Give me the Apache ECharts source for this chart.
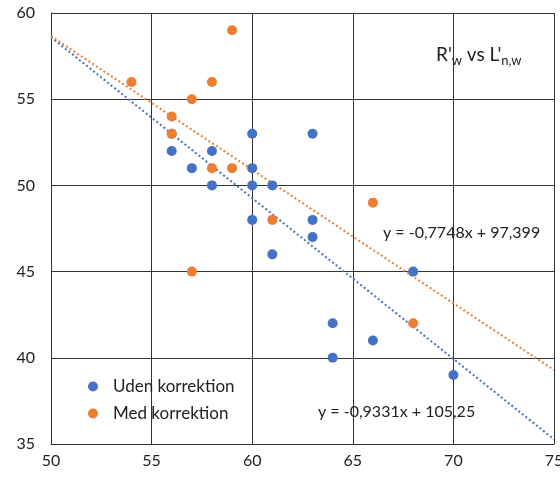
<!DOCTYPE html>
<html><head><meta charset="utf-8">
<script src="https://cdn.jsdelivr.net/npm/echarts@6/dist/echarts.min.js"></script>
<style>html,body{margin:0;padding:0;background:#fff}#c{width:560px;height:479px}</style>
</head><body><div id="c"></div>
<script>
var xTicks = [50, 55, 60, 65, 70, 75];
var yTicks = [35, 40, 45, 50, 55, 60];
var udenX = [56, 56, 57, 58, 58, 60, 60, 60, 60, 61, 61, 63, 63, 63, 64, 64, 66, 68, 70];
var udenY = [52, 53, 51, 52, 50, 53, 51, 50, 48, 50, 46, 53, 48, 47, 42, 40, 41, 45, 39];
var medX = [54, 56, 56, 57, 58, 58, 59, 59, 61, 57, 66, 68];
var medY = [56, 54, 53, 55, 56, 51, 59, 51, 48, 45, 49, 42];
var udenTrend = { slope: -0.9331, intercept: 105.25, label: 'y = -0,9331x + 105,25' };
var medTrend = { slope: -0.7748, intercept: 97.399, label: 'y = -0,7748x + 97,399' };
var legendNames = ['Uden korrektion', 'Med korrektion'];

function pts(xs, ys) { return xs.map(function (x, i) { return [x, ys[i]]; }); }
function trend(t) {
  var x0 = xTicks[0], x1 = xTicks[xTicks.length - 1];
  return [[x0, t.slope * x0 + t.intercept], [x1, t.slope * x1 + t.intercept]];
}
var F = 'Lato, "Open Sans", sans-serif';
var chart = echarts.init(document.getElementById('c'));
chart.setOption({
  animation: false,
  backgroundColor: '#fff',
  grid: { left: 51, right: 6, top: 13, bottom: 35, outerBoundsMode: 'none', containLabel: false },
  title: {
    text: "{a|R'}{s|w}{a| vs L'}{s|n,w}",
    left: 431, top: 38,
    textStyle: {
      fontWeight: 'normal',
      rich: {
        a: { fontFamily: F, fontSize: 19, fontWeight: 'normal', color: '#222' },
        s: { fontFamily: F, fontSize: 13, fontWeight: 'normal', color: '#222', padding: [11, 0, 0, 0] }
      }
    }
  },
  legend: {
    data: legendNames,
    orient: 'vertical',
    left: 83, top: 373,
    itemWidth: 10, itemHeight: 10, itemGap: 10,
    icon: 'circle',
    textStyle: { fontFamily: F, fontSize: 17, color: '#222', padding: [0, 0, 0, 10] }
  },
  xAxis: {
    type: 'value', min: 50, max: 75, interval: 5,
    axisLine: { show: true, lineStyle: { color: '#333', width: 1 } },
    axisTick: { show: false },
    splitLine: { show: true, lineStyle: { color: '#333', width: 1 } },
    axisLabel: { fontFamily: F, fontSize: 16, color: '#222', margin: 9 }
  },
  yAxis: {
    type: 'value', min: 35, max: 60, interval: 5,
    axisLine: { show: true, lineStyle: { color: '#333', width: 1 } },
    axisTick: { show: false },
    splitLine: { show: true, lineStyle: { color: '#333', width: 1 } },
    axisLabel: { fontFamily: F, fontSize: 16, color: '#222', margin: 16 }
  },
  series: [
    { name: 'UdenTrend', type: 'line', data: trend(udenTrend), symbol: 'none', silent: true,
      lineStyle: { color: '#4472C4', width: 2, type: [2, 2.5] }, z: 1 },
    { name: 'MedTrend', type: 'line', data: trend(medTrend), symbol: 'none', silent: true,
      lineStyle: { color: '#ED7D31', width: 2, type: [2, 2.5] }, z: 1 },
    { name: legendNames[0], type: 'scatter', data: pts(udenX, udenY), symbolSize: 10,
      itemStyle: { color: '#4472C4', opacity: 1 }, z: 3 },
    { name: legendNames[1], type: 'scatter', data: pts(medX, medY), symbolSize: 10,
      itemStyle: { color: '#ED7D31', opacity: 1 }, z: 4 }
  ],
  graphic: [
    { type: 'text', left: 383, top: 225, z: 10,
      style: { text: medTrend.label, font: '16px ' + F, fill: '#222' } },
    { type: 'text', left: 318, top: 404, z: 10,
      style: { text: udenTrend.label, font: '16px ' + F, fill: '#222' } }
  ]
});
</script></body></html>
